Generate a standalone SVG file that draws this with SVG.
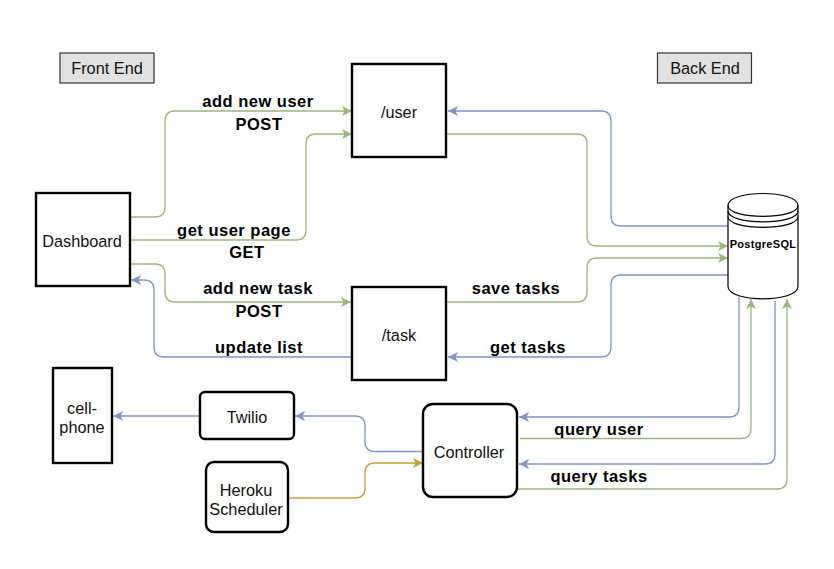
<svg xmlns="http://www.w3.org/2000/svg" width="834" height="569" viewBox="0 0 834 569">
<style>
text{font-family:"Liberation Sans",Arial,sans-serif;text-anchor:middle;fill:#111}
.n{font-size:16.300px}
.b{font-size:16.500px;font-weight:bold;letter-spacing:.5px;fill:#000}
.box{fill:#fff;stroke:#000;stroke-width:2.400}
.tag{fill:#e1e1e1;stroke:#333;stroke-width:1.200}
.c{fill:none;stroke-width:1.300}
.g{stroke:#9db67c}.u{stroke:#7f97c2}.y{stroke:#c9a236}
</style>
<defs>
<marker id="ag" markerUnits="userSpaceOnUse" markerWidth="12" markerHeight="12" refX="10" refY="6" orient="auto"><path d="M0 1 L10 6 L0 11 L2.500 6Z" fill="#9db67c"/></marker>
<marker id="au" markerUnits="userSpaceOnUse" markerWidth="12" markerHeight="12" refX="10" refY="6" orient="auto"><path d="M0 1 L10 6 L0 11 L2.500 6Z" fill="#7f97c2"/></marker>
<marker id="ay" markerUnits="userSpaceOnUse" markerWidth="12" markerHeight="12" refX="10" refY="6" orient="auto"><path d="M0 1 L10 6 L0 11 L2.500 6Z" fill="#c9a236"/></marker>
</defs>
<rect width="834" height="569" fill="#fff"/>
<g id="connectors">
<path class="c g" marker-end="url(#ag)" d="M131 217H155Q165 217 165 207V121Q165 111 175 111H352"/>
<path class="c g" marker-end="url(#ag)" d="M131 240H296Q306 240 306 230V144Q306 134 316 134H352"/>
<path class="c g" marker-end="url(#ag)" d="M131 264H155Q165 264 165 274V292Q165 302 175 302H351"/>
<path class="c u" marker-end="url(#au)" d="M352 357H164Q154 357 154 347V290Q154 280 144 280H131"/>
<path class="c u" marker-end="url(#au)" d="M728 226H621Q611 226 611 216V121Q611 111 601 111H448"/>
<path class="c g" marker-end="url(#ag)" d="M447 134H577Q587 134 587 144V236Q587 246 597 246H728"/>
<path class="c g" marker-end="url(#ag)" d="M447 302H577Q587 302 587 292V268Q587 258 597 258H728"/>
<path class="c u" marker-end="url(#au)" d="M728 275H621Q611 275 611 285V347Q611 357 601 357H448"/>
<path class="c u" marker-end="url(#au)" d="M739 297V407Q739 417 729 417H519"/>
<path class="c g" marker-end="url(#ag)" d="M520 438.500H741Q751 438.500 751 428.500V299"/>
<path class="c u" marker-end="url(#au)" d="M775 301V454Q775 464 765 464H519"/>
<path class="c g" marker-end="url(#ag)" d="M518 489H777Q787 489 787 479V299"/>
<path class="c u" marker-end="url(#au)" d="M423 451.500H375Q365 451.500 365 441.500V426Q365 416 355 416H295"/>
<path class="c u" marker-end="url(#au)" d="M200 416H113"/>
<path class="c y" marker-end="url(#ay)" d="M288 498H355Q365 498 365 488V473Q365 463 375 463H423"/>
</g>
<g id="front-end"><rect class="tag" x="60" y="53" width="94" height="30"/><text class="n" x="107" y="74">Front End</text></g>
<g id="back-end"><rect class="tag" x="657.500" y="53" width="94" height="30"/><text class="n" x="705" y="74">Back End</text></g>
<g id="dashboard"><rect class="box" x="36" y="193" width="94" height="93"/><text class="n" x="82" y="247">Dashboard</text></g>
<g id="user"><rect class="box" x="352" y="64" width="94" height="93"/><text class="n" x="399" y="118">/user</text></g>
<g id="task"><rect class="box" x="352" y="287" width="94" height="93"/><text class="n" x="399" y="341">/task</text></g>
<g id="postgresql">
<path d="M728 205.500C728 189.500 798 189.500 798 205.500V286.500C798 303 728 303 728 286.500Z" fill="#fff" stroke="#000" stroke-width="1.200"/>
<path d="M728 205.500C728 220 798 220 798 205.500M728 211C728 225.500 798 225.500 798 211M728 216.500C728 231 798 231 798 216.500" fill="none" stroke="#000" stroke-width="1.200"/>
<text x="763" y="248" font-size="11" font-weight="bold" letter-spacing=".3" style="fill:#000">PostgreSQL</text>
</g>
<g id="cell-phone"><rect class="box" x="53" y="368" width="59" height="95"/><text class="n" x="82" y="414">cell-</text><text class="n" x="82" y="433">phone</text></g>
<g id="twilio"><rect class="box" x="200" y="392" width="94" height="47" rx="5"/><text class="n" x="247" y="423">Twilio</text></g>
<g id="heroku"><rect class="box" x="206" y="462" width="82" height="70" rx="8"/><text class="n" x="246" y="496">Heroku</text><text class="n" x="246" y="515">Scheduler</text></g>
<g id="controller"><rect class="box" x="423" y="404" width="94" height="93" rx="10"/><text class="n" x="469" y="458">Controller</text></g>
<g id="labels">
<text class="b" x="258" y="107">add new user</text>
<text class="b" x="259" y="130">POST</text>
<text class="b" x="234" y="236">get user page</text>
<text class="b" x="247" y="258">GET</text>
<text class="b" x="258" y="294">add new task</text>
<text class="b" x="259" y="317">POST</text>
<text class="b" x="259" y="353">update list</text>
<text class="b" x="516" y="294">save tasks</text>
<text class="b" x="528" y="353">get tasks</text>
<text class="b" x="599" y="435">query user</text>
<text class="b" x="599" y="482">query tasks</text>
</g>
</svg>
